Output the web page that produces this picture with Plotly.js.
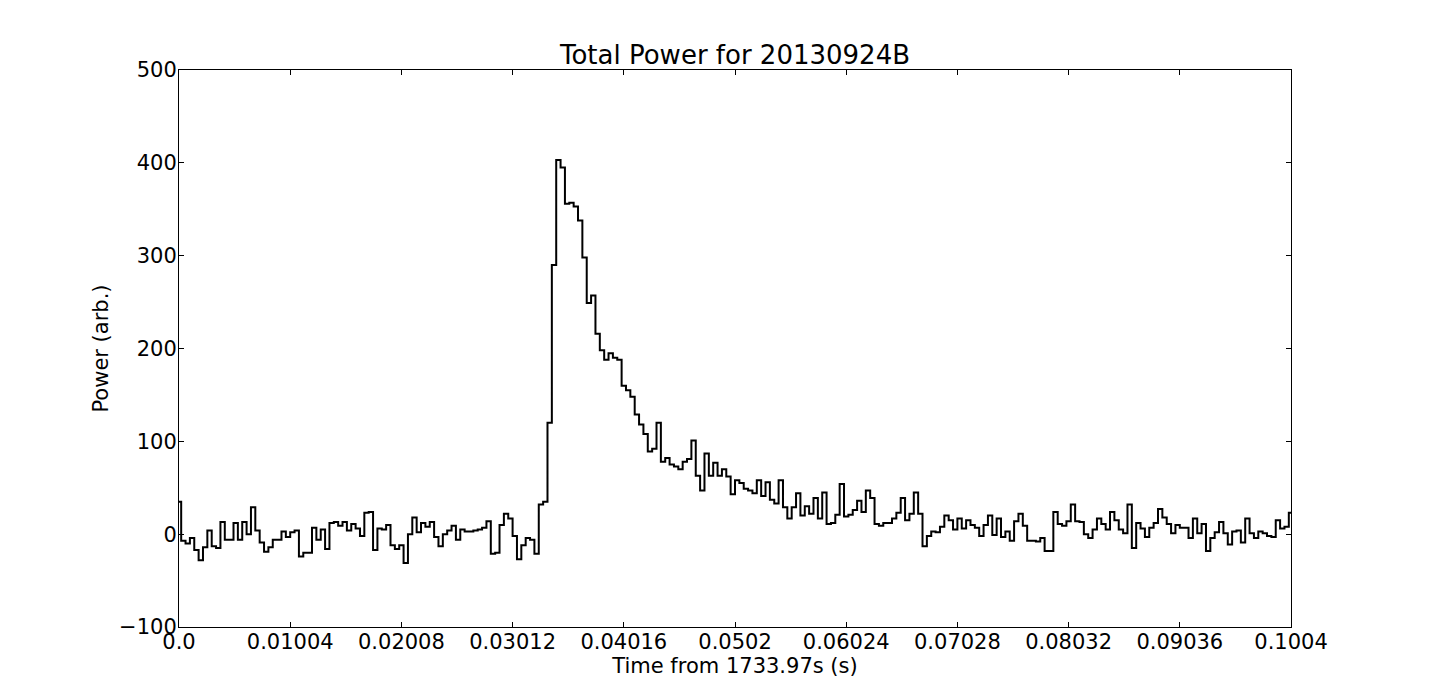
<!DOCTYPE html>
<html>
<head>
<meta charset="utf-8">
<script src="https://cdn.plot.ly/plotly-3.0.1.min.js"></script>
<style>
  html, body { margin: 0; padding: 0; background: #ffffff; }
  #chart { width: 1434px; height: 697px; }
</style>
</head>
<body>
<div id="chart"></div>
<script>
// ---- Data (power per time bin, arbitrary units) ----
// Baseline before the burst (bins 0-33)
const powerPre1 = [35, -7, -10, -4, -17, -28, -14, 4, -13, -15,
                   13, -6, -6, 12, -6, 13, 0, 29, 4, -9,
                   -19, -14, -6, -6, 3, -3, 2, 4, -24, -20,
                   -20, 7, -6, 5];
// Baseline before the burst (bins 34-66)
const powerPre2 = [-16, 12, 13, 9, 13, 4, 11, 6, -2, 23,
                   24, -17, 6, 5, 10, -12, -16, -12, -31, 0,
                   18, 2, 12, 8, 13, -3, -13, 0, 4, 9,
                   -6, 5, 3];
// Just before the burst (bins 67-82)
const powerPre3 = [3, 4, 5, 7, 14, -21, -20, 10, 22, 17, -2, -27, -12, -4, -6, -21];
// Burst rise and peak (bins 83-104)
const powerBurst = [32, 35, 120, 290, 403, 395, 356, 357, 353, 338, 298, 249, 257,
                    216, 198, 188, 195, 190, 188, 160, 155, 148];
// Decaying tail (bins 105-129)
const powerTail1 = [129, 118, 108, 89, 92, 120, 78, 82, 75, 73, 70, 78, 81, 101,
                    63, 47, 87, 63, 77, 63, 70, 62, 43, 58, 55];
// Decaying tail (bins 130-162)
const powerTail2 = [49, 47, 44, 58, 41, 56, 37, 33, 58, 29, 17, 29, 44, 20, 30, 22,
                    39, 17, 45, 11, 12, 21, 54, 19, 21, 26, 36, 24, 47, 39, 11, 9, 12];
// Late tail / baseline (bins 163-200)
const powerPost1 = [12, 17, 23, 39, 15, 22, 45, 22, -13, -2, 3, 2, 8, 20, 15, 5, 17,
                    6, 15, 10, 7, -2, 10, 20, -1, 17, -3, 3, -7, 14, 22, 9, -7, -7,
                    -8, -4, -18, -18];
// Baseline after the burst (bins 201-229)
const powerPost2 = [24, 11, 9, 14, 32, 14, 13, 0, -4, 5, 17, 11, 5, 24, 15, 5, 1,
                    32, -15, 12, 6, -3, 7, 12, 27, 18, 11, 1, 10];
// Baseline after the burst (bins 230-255)
const powerPost3 = [7, 7, -4, 17, 1, 11, -18, -4, 2, 13, 1, -11, 3, 4, -9, 17, 1,
                    -4, 3, 1, -2, -3, 15, 6, 8, 23];

// Axis ticks
const xTickVals = [0.0, 0.01004, 0.02008, 0.03012, 0.04016, 0.0502, 0.06024, 0.07028, 0.08032, 0.09036, 0.1004];
const xTickText = ["0.0", "0.01004", "0.02008", "0.03012", "0.04016", "0.0502", "0.06024", "0.07028", "0.08032", "0.09036", "0.1004"];
const yTickVals = [-100, 0, 100, 200, 300, 400, 500];
const tSpan = 0.1004;   // seconds shown on the axis

// ---- Build trace ----
const power = [].concat(powerPre1, powerPre2, powerPre3, powerBurst,
                        powerTail1, powerTail2, powerPost1, powerPost2, powerPost3);
const dt = tSpan / (power.length - 1);
const time = power.map((_, i) => i * dt);

const font = "DejaVu Sans, Liberation Sans, sans-serif";

const trace = {
  x: time,
  y: power,
  type: "scatter",
  mode: "lines",
  line: { shape: "hvh", color: "#000000", width: 2 },
  hoverinfo: "x+y"
};

const axisCommon = {
  showline: true, linecolor: "#000000", linewidth: 1, mirror: "ticks",
  ticks: "inside", ticklen: 5, tickwidth: 1, tickcolor: "#000000",
  showgrid: false, zeroline: false,
  tickfont: { family: font, size: 21, color: "#000000" }
};

const layout = {
  width: 1434, height: 697,
  margin: { l: 179, r: 143, t: 70, b: 70, pad: 0 },
  paper_bgcolor: "#ffffff", plot_bgcolor: "#ffffff",
  showlegend: false,
  title: {
    text: "Total Power for 20130924B",
    font: { family: font, size: 26, color: "#000000" },
    x: 0.5, xref: "paper", xanchor: "center",
    y: 1, yref: "paper", yanchor: "bottom", pad: { b: 6 }
  },
  xaxis: Object.assign({}, axisCommon, {
    range: [0, tSpan], autorange: false,
    tickmode: "array", tickvals: xTickVals, ticktext: xTickText,
    ticklabelstandoff: -4,
    title: { text: "Time from 1733.97s (s)", font: { family: font, size: 21, color: "#000000" }, standoff: 4 }
  }),
  yaxis: Object.assign({}, axisCommon, {
    range: [-100, 500], autorange: false,
    tickmode: "array", tickvals: yTickVals, ticktext: yTickVals.map(v => v < 0 ? "\u2212" + Math.abs(v) : String(v)),
    ticklabelstandoff: -3,
    title: { text: "Power (arb.)", font: { family: font, size: 21, color: "#000000" }, standoff: 4 }
  })
};

Plotly.newPlot("chart", [trace], layout, { displayModeBar: false, staticPlot: false });
</script>
</body>
</html>
